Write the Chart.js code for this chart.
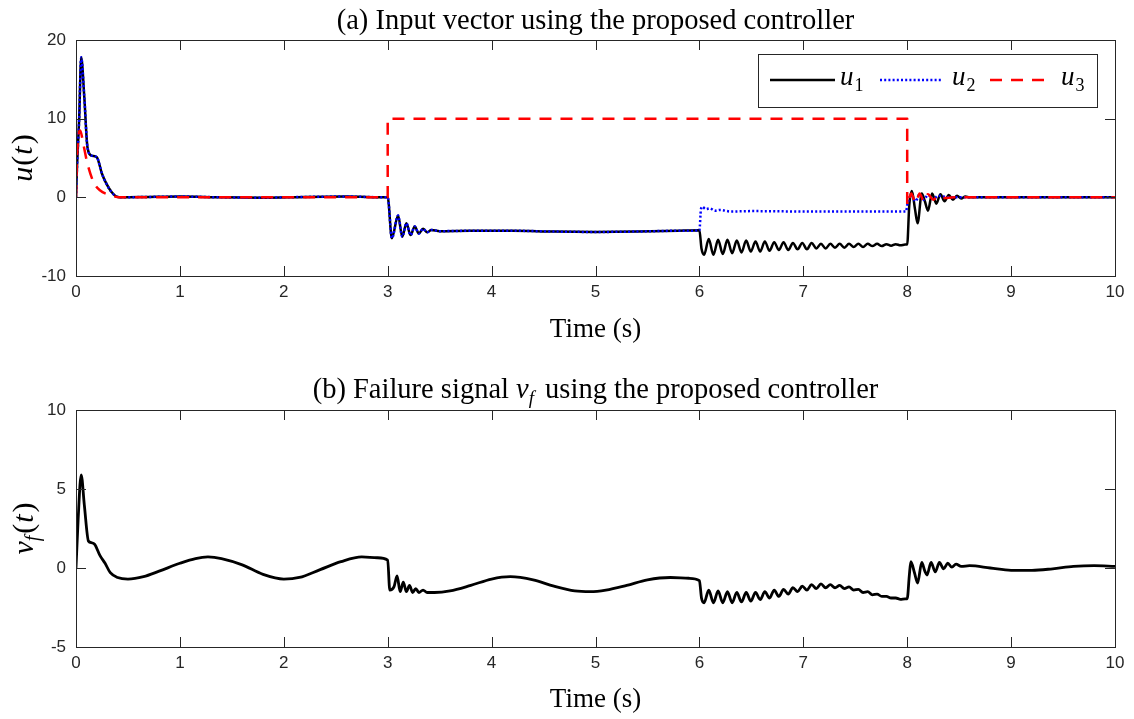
<!DOCTYPE html>
<html>
<head>
<meta charset="utf-8">
<script src="https://cdn.jsdelivr.net/npm/chart.js@4.4.0/dist/chart.umd.min.js"></script>
<style>
  body { margin: 0; background: #fff; }
  #wrap { position: relative; width: 1134px; height: 719px; }
  .pane { position: absolute; left: 0; width: 1134px; }
</style>
</head>
<body>
<div id="wrap">
  <div class="pane" style="top:0;height:360px"><canvas id="chartA"></canvas></div>
  <div class="pane" style="top:360px;height:359px"><canvas id="chartB"></canvas></div>
</div>
<script>
// ---- data ----
// u1 and u2 lie on top of each other until t = 6
let u12_t = [0, 0.01, 0.03, 0.05, 0.08, 0.11, 0.15, 0.2, 0.25, 0.29, 0.34, 0.39, 0.45, 0.7, 1.0, 1.4, 1.8, 2.2, 2.6, 2.99,
  3.0, 3.04, 3.1, 3.14, 3.18, 3.22, 3.26, 3.3, 3.34, 3.38, 3.42, 3.5, 3.8, 4.2, 4.6, 5.0, 5.4, 5.8, 6.0];
let u12_v = [0, 4, 9.8, 17.8, 12.7, 6.4, 5.3, 5.1, 3.0, 1.8, 0.7, 0.1, 0, 0.05, 0.1, 0, -0.05, 0.05, 0.1, 0,
  0, -5.2, -2.3, -5.0, -3.3, -4.8, -3.7, -4.6, -4.0, -4.45, -4.15, -4.3, -4.25, -4.25, -4.35, -4.4, -4.35, -4.25, -4.2];

let u1_t = [6.02, 6.045, 6.09, 6.135, 6.18, 6.225, 6.27, 6.315, 6.36, 6.405, 6.45, 6.495, 6.54, 6.585, 6.63, 6.675,
  6.72, 6.765, 6.81, 6.855, 6.9, 6.945, 6.99, 7.035, 7.08, 7.125, 7.17, 7.215, 7.26, 7.305, 7.35, 7.395, 7.44,
  7.485, 7.53, 7.575, 7.62, 7.665, 7.71, 7.755, 7.8, 7.845, 7.89, 7.935, 7.98, 8.0,
  8.02, 8.045, 8.075, 8.1, 8.14, 8.17, 8.2, 8.24, 8.28, 8.32, 8.36, 8.4, 8.44, 8.48, 8.52, 8.56, 8.6, 9.0, 10];
let u1_v = [-6.5, -7.3, -5.3, -7.3, -5.4, -7.2, -5.4, -7.1, -5.5, -7.0, -5.5, -6.9, -5.6, -6.9, -5.6, -6.8,
  -5.7, -6.7, -5.7, -6.7, -5.8, -6.6, -5.8, -6.6, -5.8, -6.5, -5.9, -6.5, -5.9, -6.4, -5.9, -6.4, -5.9,
  -6.3, -5.9, -6.3, -5.9, -6.2, -5.9, -6.2, -5.95, -6.15, -5.95, -6.1, -6.0, -6.0,
  -1.0, 0.8, -1.5, -3.3, 0.5, -0.5, -1.7, 0.5, -0.8, 0.4, -0.5, 0.3, -0.3, 0.2, -0.15, 0.1, 0, 0, 0];

let u2_t = [6.015, 6.03, 6.06, 6.1, 6.15, 6.2, 6.3, 6.5, 7.0, 7.5, 7.99, 8.0, 8.04, 8.08, 8.12, 8.16, 8.2, 8.25, 8.3, 8.4, 10];
let u2_v = [-1.5, -1.2, -1.5, -1.4, -1.7, -1.6, -1.8, -1.75, -1.8, -1.8, -1.8, -1.0, 0.3, -0.5, 0.4, -0.3, 0.3, -0.2, 0.2, 0, 0];

let u3_t = [0, 0.01, 0.04, 0.07, 0.11, 0.17, 0.23, 0.34, 0.42, 1, 2, 3, 3, 8, 8, 8.04, 8.08, 8.12, 8.16, 8.2, 8.25, 8.3, 8.35, 8.45, 10];
let u3_v = [0, 5.1, 8.5, 6.8, 4.3, 1.9, 0.9, 0.25, 0, 0, 0, 0, 10, 10, -1.0, 0.5, -0.7, 0.5, -0.5, 0.4, -0.3, 0.2, -0.1, 0, 0];

let vf_t = [0, 0.02, 0.05, 0.08, 0.12, 0.15, 0.18, 0.23, 0.28, 0.33, 0.4, 0.5, 0.65, 0.8, 1.0, 1.15, 1.27, 1.4, 1.6, 1.8,
  2.0, 2.15, 2.35, 2.55, 2.75, 2.9, 3.0,
  3.02, 3.06, 3.09, 3.12, 3.15, 3.18, 3.21, 3.24, 3.27, 3.3, 3.34, 3.38, 3.45, 3.6, 3.8, 4.0, 4.18, 4.4, 4.6, 4.8,
  4.95, 5.1, 5.3, 5.5, 5.72, 5.9, 6.0,
  6.02, 6.045, 6.09, 6.135, 6.18, 6.225, 6.27, 6.315, 6.36, 6.405, 6.45, 6.495, 6.54, 6.585, 6.63, 6.675, 6.72,
  6.765, 6.81, 6.855, 6.9, 6.945, 6.99, 7.035, 7.08, 7.125, 7.17, 7.215, 7.26, 7.305, 7.35, 7.395, 7.44, 7.485,
  7.53, 7.575, 7.62, 7.665, 7.71, 7.755, 7.8, 7.845, 7.89, 7.935, 7.98, 8.0,
  8.02, 8.035, 8.07, 8.1, 8.14, 8.17, 8.19, 8.23, 8.27, 8.31, 8.35, 8.39, 8.43, 8.47, 8.52, 8.6, 8.8, 9.0, 9.2,
  9.4, 9.6, 9.8, 10];
let vf_v = [0, 3, 5.9, 4, 1.7, 1.6, 1.5, 0.8, 0.3, -0.3, -0.6, -0.7, -0.55, -0.2, 0.3, 0.6, 0.7, 0.6, 0.2, -0.4,
  -0.7, -0.6, -0.1, 0.4, 0.7, 0.65, 0.5,
  -1.4, -1.2, -0.5, -1.5, -0.9, -1.5, -1.1, -1.55, -1.3, -1.55, -1.4, -1.55, -1.55, -1.45, -1.1, -0.7, -0.55, -0.75, -1.15, -1.45,
  -1.5, -1.4, -1.1, -0.75, -0.6, -0.65, -0.8,
  -1.9, -2.2, -1.4, -2.2, -1.45, -2.2, -1.5, -2.2, -1.55, -2.15, -1.55, -2.1, -1.55, -2.0, -1.5, -1.9, -1.4,
  -1.8, -1.35, -1.65, -1.25, -1.5, -1.15, -1.4, -1.05, -1.3, -1.0, -1.25, -1.05, -1.25, -1.1, -1.3, -1.2, -1.4,
  -1.35, -1.55, -1.5, -1.7, -1.65, -1.8, -1.8, -1.9, -1.9, -1.98, -1.95, -1.95,
  -0.5, 0.4, -0.3, -0.95, 0.35, -0.2, -0.45, 0.35, -0.25, 0.35, -0.05, 0.3, 0.05, 0.25, 0.1, 0.15, 0.0, -0.15, -0.15,
  -0.05, 0.1, 0.15, 0.1];

let x_ticks = [0, 1, 2, 3, 4, 5, 6, 7, 8, 9, 10];

function pts(ts, vs) {
  return ts.map((t, i) => ({ x: t, y: vs[i] }));
}

let axisColor = '#262626';
let rm = s => s + 'px "Liberation Serif"';
let it = s => 'italic ' + s + 'px "Liberation Serif"';

function drawRich(ctx, parts, cx, y) {
  let w = 0;
  parts.forEach(p => { ctx.font = p.f; w += ctx.measureText(p.t).width + (p.gap || 0); });
  let x = cx - w / 2;
  parts.forEach(p => {
    ctx.font = p.f;
    ctx.fillText(p.t, x, y + (p.dy || 0));
    x += ctx.measureText(p.t).width + (p.gap || 0);
  });
}

// box, inward ticks, titles, y label, legend
let decor = {
  id: 'decor',
  afterDraw(chart, args, opts) {
    let ctx = chart.ctx, a = chart.chartArea;
    let xs = chart.scales.x, ys = chart.scales.y;
    ctx.save();
    ctx.strokeStyle = axisColor;
    ctx.lineWidth = 1;
    ctx.strokeRect(Math.round(a.left) + 0.5, Math.round(a.top) + 0.5, Math.round(a.width), Math.round(a.height));
    ctx.beginPath();
    xs.ticks.forEach(t => {
      let px = Math.round(xs.getPixelForValue(t.value)) + 0.5;
      ctx.moveTo(px, a.bottom); ctx.lineTo(px, a.bottom - 10);
      ctx.moveTo(px, a.top); ctx.lineTo(px, a.top + 10);
    });
    ys.ticks.forEach(t => {
      let py = Math.round(ys.getPixelForValue(t.value)) + 0.5;
      ctx.moveTo(a.left, py); ctx.lineTo(a.left + 10, py);
      ctx.moveTo(a.right, py); ctx.lineTo(a.right - 10, py);
    });
    ctx.stroke();

    ctx.fillStyle = '#000';
    ctx.textBaseline = 'alphabetic';
    ctx.textAlign = 'left';
    drawRich(ctx, opts.title, (a.left + a.right) / 2, opts.titleY);

    ctx.save();
    ctx.translate(opts.ylabelX, (a.top + a.bottom) / 2);
    ctx.rotate(-Math.PI / 2);
    drawRich(ctx, opts.ylabel, 0, 0);
    ctx.restore();

    if (opts.legend) {
      let r = a.right - 18, top = a.top + 14, w = 339, h = 53;
      let l = r - w, my = top + 26;
      ctx.fillStyle = '#fff';
      ctx.fillRect(l, top, w, h);
      ctx.strokeRect(l + 0.5, top + 0.5, w, h);
      let items = [
        { x: 12, len: 65, ds: chart.data.datasets[0], sub: '1', tx: 82 },
        { x: 122, len: 63, ds: chart.data.datasets[1], sub: '2', tx: 194 },
        { x: 232, len: 56, ds: chart.data.datasets[2], sub: '3', tx: 303 }
      ];
      items.forEach(o => {
        ctx.save();
        ctx.strokeStyle = o.ds.borderColor;
        ctx.lineWidth = o.ds.borderWidth;
        ctx.setLineDash(o.ds.borderDash || []);
        ctx.beginPath();
        ctx.moveTo(l + o.x, my); ctx.lineTo(l + o.x + o.len, my);
        ctx.stroke();
        ctx.restore();
        ctx.fillStyle = '#000';
        ctx.font = it(27);
        ctx.fillText('u', l + o.tx, my + 5);
        let uw = ctx.measureText('u').width;
        ctx.font = rm(18);
        ctx.fillText(o.sub, l + o.tx + uw + 1, my + 11);
      });
    }
    ctx.restore();
  }
};

function makeScales(yMin, yMax, yStep, xHeight, titlePad) {
  return {
    x: {
      type: 'linear', min: 0, max: 10,
      afterBuildTicks: s => { s.ticks = x_ticks.map(v => ({ value: v })); },
      afterFit: s => { s.height = xHeight; },
      grid: { display: false, drawTicks: false },
      border: { display: false },
      ticks: { color: axisColor, font: { family: 'Liberation Sans', size: 17 }, padding: 6, maxRotation: 0 },
      title: { display: true, text: 'Time (s)', color: '#000', font: { family: 'Liberation Serif', size: 27 }, padding: { top: 0, bottom: titlePad } }
    },
    y: {
      min: yMin, max: yMax,
      ticks: { stepSize: yStep, color: axisColor, font: { family: 'Liberation Sans', size: 17 }, padding: 10 },
      afterFit: s => { s.width = 76; },
      grid: { display: false, drawTicks: false },
      border: { display: false }
    }
  };
}

let lineStyle = { pointRadius: 0, borderWidth: 2.5, tension: 0, fill: false, borderCapStyle: 'butt', borderJoinStyle: 'round' };
let smooth = { cubicInterpolationMode: 'monotone' };

new Chart(document.getElementById('chartA'), {
  type: 'line',
  data: {
    datasets: [
      Object.assign({ label: 'u1', data: pts(u12_t.concat(u1_t), u12_v.concat(u1_v)), borderColor: '#000000', order: 2 }, lineStyle, smooth),
      Object.assign({ label: 'u2', data: pts(u12_t.concat(u2_t), u12_v.concat(u2_v)), borderColor: '#0000ff', borderDash: [2, 2.2], order: 1 }, lineStyle, smooth),
      Object.assign({ label: 'u3', data: pts(u3_t, u3_v), borderColor: '#ff0000', borderDash: [12, 9], order: 0 }, lineStyle, smooth)
    ]
  },
  options: {
    responsive: true, maintainAspectRatio: false, animation: false,
    layout: { padding: { top: 40, right: 19, left: 0, bottom: 0 } },
    scales: makeScales(-10, 20, 10, 84, 14),
    plugins: {
      legend: { display: false }, tooltip: { enabled: false },
      decor: {
        title: [{ t: '(a) Input vector using the proposed controller', f: rm(28.5) }],
        titleY: 29,
        ylabel: [{ t: 'u', f: it(30), gap: 1 }, { t: '(', f: rm(30), gap: 1 }, { t: 't', f: it(30), gap: 2 }, { t: ')', f: rm(30) }],
        ylabelX: 32,
        legend: true
      }
    }
  },
  plugins: [decor]
});

new Chart(document.getElementById('chartB'), {
  type: 'line',
  data: {
    datasets: [
      Object.assign({ label: 'vf', data: pts(vf_t, vf_v), borderColor: '#000000' }, lineStyle, smooth, { borderWidth: 2.8 })
    ]
  },
  options: {
    responsive: true, maintainAspectRatio: false, animation: false,
    layout: { padding: { top: 50, right: 19, left: 0, bottom: 0 } },
    scales: makeScales(-5, 10, 5, 72, 3),
    plugins: {
      legend: { display: false }, tooltip: { enabled: false },
      decor: {
        title: [{ t: '(b) Failure signal ', f: rm(28.5) }, { t: 'v', f: it(28.5) }, { t: 'f', f: it(19), dy: 6, gap: 4 },
                { t: ' using the proposed controller', f: rm(28.5) }],
        titleY: 38,
        ylabel: [{ t: 'v', f: it(30) }, { t: 'f', f: it(20), dy: 6, gap: 2 }, { t: '(', f: rm(30), gap: 1 }, { t: 't', f: it(30), gap: 2 }, { t: ')', f: rm(30) }],
        ylabelX: 33,
        legend: false
      }
    }
  },
  plugins: [decor]
});
</script>
</body>
</html>
